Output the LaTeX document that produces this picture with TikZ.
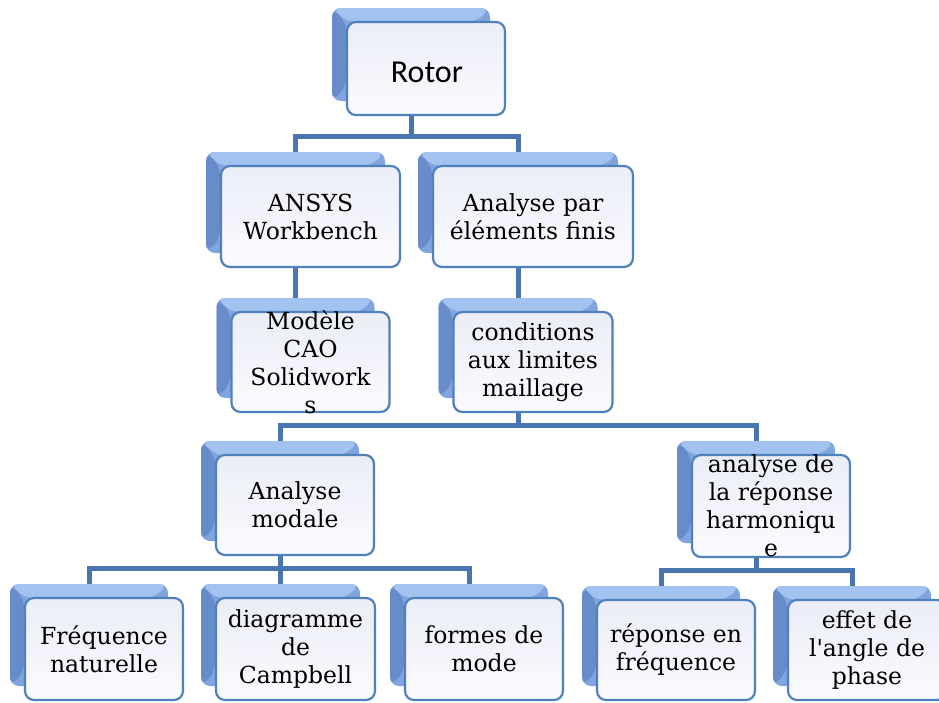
\documentclass[tikz,border=0pt]{standalone}
\usepackage{fontspec}
\setmainfont[Ligatures=TeXOff]{DejaVu Serif}
\newfontfamily\rotorfont{Carlito}
\usetikzlibrary{calc, positioning}
\definecolor{LinkBlue}{RGB}{74,118,176}
\definecolor{EdgeBlue}{RGB}{79,129,189}
\definecolor{BackMid}{RGB}{128,164,222}
\definecolor{BackLight}{RGB}{162,194,240}
\definecolor{BackDark}{RGB}{104,140,202}
\definecolor{FaceTop}{RGB}{235,237,247}
\definecolor{FaceBottom}{RGB}{251,251,255}
\pgfdeclarelayer{background}
\pgfsetlayers{background,main}

\begin{document}
\begin{tikzpicture}[x=1pt, y=-1pt,
  back/.style={rounded corners=9pt, fill=BackMid, inner sep=0pt,
    path picture={
      \fill[BackLight] (path picture bounding box.north west) -- (path picture bounding box.north east)
        -- ([xshift=-14pt, yshift=-14pt]path picture bounding box.north east)
        -- ([xshift=14pt, yshift=-14pt]path picture bounding box.north west) -- cycle;
      \fill[BackDark] (path picture bounding box.north west) -- (path picture bounding box.south west)
        -- ([xshift=14pt, yshift=14pt]path picture bounding box.south west)
        -- ([xshift=14pt, yshift=-14pt]path picture bounding box.north west) -- cycle;
    }},
  face/.style={draw=EdgeBlue, line width=2.2pt, rounded corners=9pt, top color=FaceTop,
               bottom color=FaceBottom, inner sep=0pt},
  tiletext/.style={align=center, font=\fontsize{23.5}{28}\selectfont, inner sep=0pt},
  link/.style={LinkBlue, line width=5pt}]
  \useasboundingbox (0,0) rectangle (939,702);

  % tiles: name, centre of the front face, size
  \foreach \n/\x/\y/\w/\h in {rotor/426/68.5/158/93,
                              ansys/310.5/216.5/179/101, fem/533/216.5/200/101,
                              cao/310.5/362/158/100, cond/533/362/159/100,
                              modale/295/505/158/100, harm/771/506/158/102,
                              freq/104/649/158/102, camp/295.5/649/159/102,
                              formes/484/649/158/102,
                              repfreq/676/650/158/100, phase/867/650/158/100} {
    \node[back, minimum width=\w pt, minimum height=\h pt] (\n-b) at (\x-15,\y-14) {};
    \node[face, minimum width=\w pt, minimum height=\h pt] (\n) at (\x,\y) {};
  }

  % texts
  \node[tiletext] (rotor-t) at ([xshift=1pt, yshift=-4pt]rotor) {\rotorfont\fontsize{32}{38}\selectfont Rotor};
  \node[tiletext] (ansys-t) at (ansys) {ANSYS\\Workbench};
  \node[tiletext] (fem-t) at (fem) {Analyse par\\éléments finis};
  \node[tiletext] (cao-t) at (cao) {Modèle\\CAO\\Solidwork\\s};
  \node[tiletext] (cond-t) at (cond) {conditions\\aux limites\\maillage};
  \node[tiletext] (modale-t) at (modale) {Analyse\\modale};
  \node[tiletext] (harm-t) at (harm) {analyse de\\la réponse\\harmoniqu\\e};
  \node[tiletext] (freq-t) at (freq) {Fréquence\\naturelle};
  \node[tiletext] (camp-t) at (camp) {diagramme\\de\\Campbell};
  \node[tiletext] (formes-t) at (formes) {formes de\\mode};
  \node[tiletext] (repfreq-t) at (repfreq) {réponse en\\fréquence};
  \node[tiletext] (phase-t) at (phase) {effet de\\l'angle de\\phase};

  % connectors, behind the tiles
  \begin{pgfonlayer}{background}
    \foreach \p/\c in {rotor/ansys, rotor/fem, ansys/cao, fem/cond,
                       cond/modale, cond/harm,
                       modale/freq, modale/camp, modale/formes,
                       harm/repfreq, harm/phase}
      \draw[link] (\p-b.center) |- ([yshift=15pt]\c-b.north) -- (\c-b.north);
  \end{pgfonlayer}
\end{tikzpicture}
\end{document}
